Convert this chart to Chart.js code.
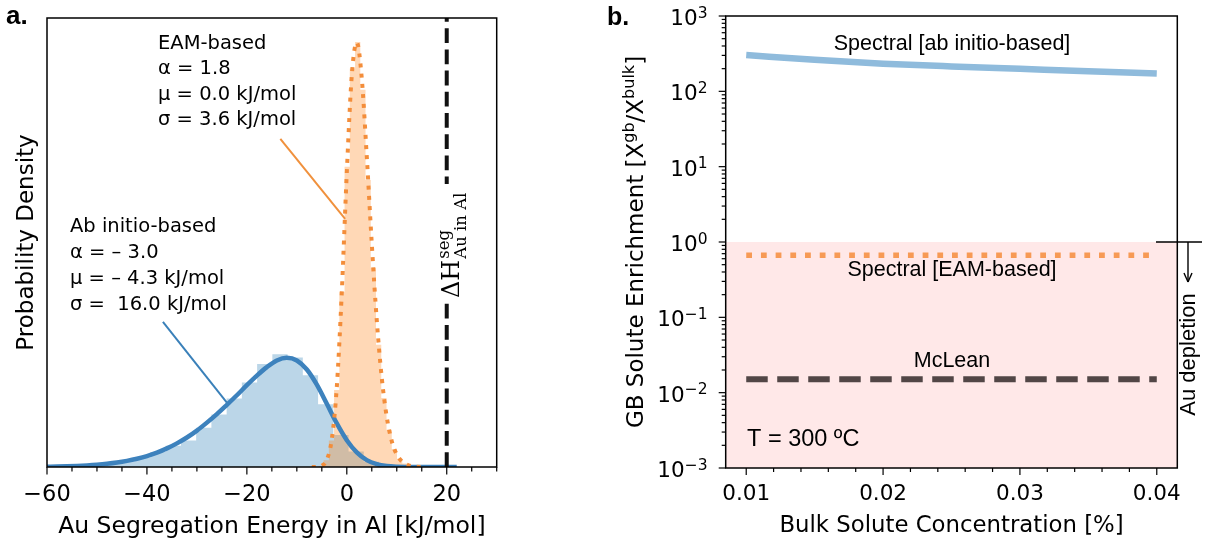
<!DOCTYPE html>
<html lang="en">
<head>
<meta charset="UTF-8" />
<title>Au segregation in Al</title>
<script src="https://cdn.jsdelivr.net/npm/chart.js"></script>
<style>
  html, body { margin: 0; padding: 0; background: #fff; }
  #wrap { position: relative; width: 1209px; height: 546px; }
  #chartA { position: absolute; left: 0; top: 0; }
  #chartB { position: absolute; left: 560px; top: 0; }
</style>
</head>
<body>
<div id="wrap">
  <canvas id="chartA" width="560" height="546"></canvas>
  <canvas id="chartB" width="649" height="546"></canvas>
</div>
<script>
// ---- panel a: segregation energy spectra ----
const abInitioEdges = [-60.65, -57.60, -54.55, -51.50, -48.45, -45.40, -42.35, -39.30, -36.25, -33.20,
  -30.15, -27.10, -24.05, -21.00, -17.95, -14.90, -11.85, -8.80, -5.75, -2.70,
  0.35, 3.40, 6.45, 9.50, 12.55, 15.60, 18.65, 21.70];
const abInitioHist = [0.0002, 0.0003, 0.0005, 0.0008, 0.0013, 0.0022, 0.0036, 0.0056, 0.0080, 0.0100,
  0.0148, 0.0198, 0.0258, 0.0318, 0.0388, 0.0424, 0.0412, 0.0345, 0.0236, 0.0120,
  0.0058, 0.0020, 0.0005, 0.00012, 0.00004, 0.00002, 0.00001];

const eamEdges = [-5.70, -4.65, -3.60, -2.55, -1.50, -0.45, 0.60, 1.65, 2.70, 3.75, 4.80,
  5.85, 6.90, 7.95, 9.00, 10.05, 11.10, 12.15, 13.20, 14.25, 15.30];
const eamHist = [0.0004, 0.0025, 0.0100, 0.0290, 0.0660, 0.1130, 0.1500, 0.1600, 0.1420, 0.1080,
  0.0750, 0.0460, 0.0260, 0.0140, 0.0068, 0.0031, 0.0013, 0.0005, 0.0002, 0.0001];

const abInitioFitX = [-60, -58, -56, -54, -52, -50, -48, -46, -44, -42, -40, -38, -36, -34, -32, -30,
  -28, -26, -24, -22, -20, -18, -16, -14, -12, -10, -8, -6, -4, -2, 0, 2, 4, 6, 8, 10, 12, 14, 16, 18, 20, 22];
const abInitioFitY = [0.00012, 0.00018, 0.00027, 0.0004, 0.00059, 0.00085, 0.0012, 0.00167, 0.0023, 0.0031,
  0.0041, 0.0054, 0.0070, 0.0089, 0.0111, 0.0137, 0.0167, 0.0199, 0.0234, 0.0270, 0.0308, 0.0344,
  0.0376, 0.0401, 0.0411, 0.0401, 0.0367, 0.0310, 0.0238, 0.0164, 0.0101, 0.0055, 0.0026, 0.0011,
  0.0004, 0.00012, 0.00003, 0, 0, 0, 0, 0];

const eamFitX = [-7, -6, -5, -4, -3, -2, -1, 0, 1, 2, 3, 4, 5, 6, 7, 8, 9, 10, 11, 12, 13, 14, 15, 16];
const eamFitY = [0, 0.00007, 0.0005, 0.0027, 0.0105, 0.0301, 0.0658, 0.1108, 0.1474, 0.1598, 0.1462,
  0.1168, 0.0840, 0.0552, 0.0335, 0.0188, 0.0097, 0.0047, 0.0021, 0.0009, 0.0003, 0.0001, 0.00003, 0.00001];

const deltaHSeg = 20;
const energyTicks = [-60, -40, -20, 0, 20];
const eamText = ['EAM-based', 'α = 1.8', 'μ = 0.0 kJ/mol', 'σ = 3.6 kJ/mol'];
const abText = ['Ab initio-based', 'α = – 3.0', 'μ = – 4.3 kJ/mol', 'σ =  16.0 kJ/mol'];

// ---- panel b: GB enrichment vs bulk concentration ----
const bulkConc = [0.010, 0.015, 0.020, 0.025, 0.030, 0.035, 0.040];
const spectralAbInitio = [303, 262, 233, 214, 199, 185, 173];
const spectralEAM = [0.665, 0.665, 0.665, 0.665, 0.665, 0.665, 0.665];
const mcLean = [0.0151, 0.0151, 0.0151, 0.0151, 0.0151, 0.0151, 0.0151];
const concTicks = [0.01, 0.02, 0.03, 0.04];
const enrichExponents = [-3, -2, -1, 0, 1, 2, 3];

function histPoints(edges, h) {
  const pts = h.map((v, i) => ({ x: edges[i], y: v }));
  pts.push({ x: edges[edges.length - 1], y: 0 });
  return pts;
}
function xy(xs, ys) { return xs.map((v, i) => ({ x: v, y: ys[i] })); }
function seg(ctx, x1, y1, x2, y2) { ctx.beginPath(); ctx.moveTo(x1, y1); ctx.lineTo(x2, y2); ctx.stroke(); }

const panelA = {
  id: 'panelA',
  afterDraw(chart) {
    const { ctx, chartArea: a, scales: { x, y } } = chart;
    ctx.save();
    ctx.strokeStyle = '#000';
    ctx.lineWidth = 1.2;
    for (let v = -60; v <= 30; v += 5) {
      const px = x.getPixelForValue(v);
      seg(ctx, px, a.bottom, px, a.bottom + (energyTicks.includes(v) ? 7.5 : 4.5));
    }
    ctx.lineWidth = 1.5;
    ctx.strokeRect(a.left, a.top, a.right - a.left, a.bottom - a.top);

    // annotation pointers
    ctx.lineWidth = 2;
    ctx.strokeStyle = '#3a80b9';
    seg(ctx, x.getPixelForValue(-36.8), y.getPixelForValue(0.0546), x.getPixelForValue(-24.0), y.getPixelForValue(0.0242));
    ctx.strokeStyle = '#f0913d';
    seg(ctx, x.getPixelForValue(-13.3), y.getPixelForValue(0.1235), x.getPixelForValue(-0.34), y.getPixelForValue(0.0934));

    ctx.fillStyle = '#000';
    ctx.textAlign = 'left';
    ctx.textBaseline = 'middle';
    ctx.font = '19.5px "DejaVu Sans"';
    eamText.forEach((t, i) => ctx.fillText(t, 158, 43.5 + i * 25.5));
    abText.forEach((t, i) => ctx.fillText(t, 70, 226.5 + i * 26));

    // delta H label on the dashed line
    const xl = x.getPixelForValue(deltaHSeg);
    ctx.fillStyle = '#fff';
    ctx.fillRect(xl - 12, 184, 34, 116);
    ctx.fillStyle = '#000';
    ctx.save();
    ctx.translate(xl + 12.5, 298);
    ctx.rotate(-Math.PI / 2);
    ctx.textBaseline = 'alphabetic';
    ctx.font = '24px "DejaVu Serif"';
    ctx.fillText('ΔH', 0, 0);
    const w = ctx.measureText('ΔH').width;
    ctx.font = '16.5px "DejaVu Serif"';
    ctx.fillText('seg', w + 1, -10.5);
    ctx.fillText('Au in Al', w + 1, 6.5);
    ctx.restore();

    ctx.save();
    ctx.translate(32.5, 242.5);
    ctx.rotate(-Math.PI / 2);
    ctx.textAlign = 'center';
    ctx.textBaseline = 'alphabetic';
    ctx.font = '23px "DejaVu Sans"';
    ctx.fillText('Probability Density', 0, 0);
    ctx.restore();

    ctx.font = 'bold 26px "Liberation Sans"';
    ctx.textBaseline = 'alphabetic';
    ctx.fillText('a.', 6, 24);
    ctx.restore();
  }
};

const panelB = {
  id: 'panelB',
  beforeDatasetsDraw(chart) {
    const { ctx, chartArea: a, scales: { y } } = chart;
    const top = y.getPixelForValue(1);
    ctx.save();
    ctx.fillStyle = 'rgba(250,0,0,0.09)';
    ctx.fillRect(a.left, top, a.right - a.left, a.bottom - top);
    ctx.restore();
  },
  afterDraw(chart) {
    const { ctx, chartArea: a, scales: { x, y } } = chart;
    ctx.save();
    ctx.strokeStyle = '#000';
    ctx.lineWidth = 1.2;
    for (let k = 5; k <= 20; k++) {
      const px = x.getPixelForValue(k * 0.002);
      seg(ctx, px, a.bottom, px, a.bottom + (k % 5 === 0 ? 7 : 4));
    }
    for (let e = -3; e < 3; e++) {
      for (let m = 1; m <= 9; m++) {
        const py = y.getPixelForValue(m * Math.pow(10, e));
        seg(ctx, a.left, py, a.left - (m === 1 ? 7 : 4), py);
      }
    }
    seg(ctx, a.left, a.top, a.left - 7, a.top);
    ctx.lineWidth = 1.5;
    ctx.strokeRect(a.left, a.top, a.right - a.left, a.bottom - a.top);

    // log tick labels with superscripts
    ctx.fillStyle = '#000';
    ctx.textAlign = 'left';
    ctx.textBaseline = 'alphabetic';
    enrichExponents.forEach(e => {
      const py = y.getPixelForValue(Math.pow(10, e));
      const ex = e < 0 ? '\u2212' + (-e) : String(e);
      ctx.font = '15.5px "DejaVu Sans"';
      const we = ctx.measureText(ex).width;
      ctx.font = '21.5px "DejaVu Sans"';
      const wb = ctx.measureText('10').width;
      const x0 = 147.5 - we - wb;
      ctx.fillText('10', x0, py + 9);
      ctx.font = '15.5px "DejaVu Sans"';
      ctx.fillText(ex, x0 + wb, py + 1.5);
    });

    // y title with superscripts
    const runs = [['GB Solute Enrichment [X', 0], ['gb', 1], ['/X', 0], ['bulk', 1], [']', 0]];
    const fontOf = s => s ? '16px "DejaVu Sans"' : '23px "DejaVu Sans"';
    let total = 0;
    runs.forEach(r => { ctx.font = fontOf(r[1]); total += ctx.measureText(r[0]).width; });
    ctx.save();
    ctx.translate(83, 242);
    ctx.rotate(-Math.PI / 2);
    let cx = -total / 2;
    runs.forEach(r => {
      ctx.font = fontOf(r[1]);
      ctx.fillText(r[0], cx, r[1] ? -9 : 0);
      cx += ctx.measureText(r[0]).width;
    });
    ctx.restore();

    // curve labels
    ctx.textAlign = 'center';
    ctx.textBaseline = 'middle';
    ctx.font = '21.5px "Liberation Sans"';
    ctx.fillText('Spectral [ab initio-based]', 392, 44);
    ctx.fillText('Spectral [EAM-based]', 392, 270.5);
    ctx.fillText('McLean', 392, 361.5);
    ctx.textAlign = 'left';
    ctx.font = '23.5px "Liberation Sans"';
    ctx.fillText('T = 300 ºC', 187, 439.5);

    // depletion marker
    const p1 = y.getPixelForValue(1);
    ctx.lineWidth = 1.4;
    seg(ctx, 596, p1, 642, p1);
    seg(ctx, 628, p1, 628, 282);
    seg(ctx, 624, 273, 628, 282);
    seg(ctx, 632, 273, 628, 282);
    ctx.save();
    ctx.translate(634.5, 354.5);
    ctx.rotate(-Math.PI / 2);
    ctx.textBaseline = 'alphabetic';
    ctx.textAlign = 'center';
    ctx.font = '22px "Liberation Sans"';
    ctx.fillText('Au depletion', 0, 0);
    ctx.restore();

    ctx.textAlign = 'left';
    ctx.textBaseline = 'alphabetic';
    ctx.font = 'bold 25px "Liberation Sans"';
    ctx.fillText('b.', 47, 25);
    ctx.restore();
  }
};

const noUi = { legend: { display: false }, tooltip: { enabled: false } };

new Chart(document.getElementById('chartA'), {
  type: 'line',
  data: {
    datasets: [
      { data: [{ x: deltaHSeg, y: 0 }, { x: deltaHSeg, y: 0.169 }], borderColor: '#111', borderWidth: 4,
        borderDash: [14.8, 6.4], pointRadius: 0, order: 1 },
      { data: xy(eamFitX, eamFitY), borderColor: '#f38d3a', borderWidth: 4, borderDash: [4, 6.2],
        cubicInterpolationMode: 'monotone', pointRadius: 0, order: 2 },
      { data: xy(abInitioFitX, abInitioFitY), borderColor: '#3d82bd', borderWidth: 4.5,
        cubicInterpolationMode: 'monotone', pointRadius: 0, order: 3 },
      { data: histPoints(eamEdges, eamHist), stepped: true, fill: 'origin', borderWidth: 0,
        borderColor: 'rgba(0,0,0,0)', backgroundColor: 'rgba(255,127,14,0.3)', pointRadius: 0, order: 4 },
      { data: histPoints(abInitioEdges, abInitioHist), stepped: true, fill: 'origin', borderWidth: 0,
        borderColor: 'rgba(0,0,0,0)', backgroundColor: 'rgba(31,119,180,0.3)', pointRadius: 0, order: 5 }
    ]
  },
  options: {
    responsive: false,
    animation: false,
    events: [],
    layout: { padding: { left: 47, top: 18, right: 63.3, bottom: 0 } },
    plugins: noUi,
    scales: {
      x: {
        type: 'linear', min: -60, max: 30,
        afterBuildTicks: s => { s.ticks = energyTicks.map(v => ({ value: v })); },
        afterFit: s => { s.height = 79; },
        grid: { display: false, drawTicks: false },
        border: { display: false },
        ticks: { color: '#000', padding: 14.5, maxRotation: 0, autoSkip: false,
          font: { family: 'DejaVu Sans', size: 22.5 },
          callback: v => (v < 0 ? '\u2212' : '') + Math.abs(v) },
        title: { display: true, text: 'Au Segregation Energy in Al [kJ/mol]', color: '#000',
          font: { family: 'DejaVu Sans', size: 23.5 }, padding: { top: 0, bottom: 5 } }
      },
      y: { type: 'linear', min: 0, max: 0.169, display: false }
    }
  },
  plugins: [panelA]
});

new Chart(document.getElementById('chartB'), {
  type: 'line',
  data: {
    datasets: [
      { data: xy(bulkConc, spectralAbInitio), borderColor: '#8fbbdc', borderWidth: 6.5,
        cubicInterpolationMode: 'monotone', pointRadius: 0 },
      { data: xy(bulkConc, spectralEAM), borderColor: '#f79a55', borderWidth: 5.5,
        borderDash: [5.8, 8.9], pointRadius: 0 },
      { data: xy(bulkConc, mcLean), borderColor: '#524646', borderWidth: 6,
        borderDash: [21.5, 9.5], pointRadius: 0 }
    ]
  },
  options: {
    responsive: false,
    animation: false,
    events: [],
    layout: { padding: { left: 165.7, top: 16, right: 31.7, bottom: 0 } },
    plugins: noUi,
    scales: {
      x: {
        type: 'linear', min: 0.0085, max: 0.0415,
        afterBuildTicks: s => { s.ticks = concTicks.map(v => ({ value: v })); },
        afterFit: s => { s.height = 78; },
        grid: { display: false, drawTicks: false },
        border: { display: false },
        ticks: { color: '#000', padding: 14, maxRotation: 0, autoSkip: false,
          font: { family: 'DejaVu Sans', size: 21.5 },
          callback: v => v.toFixed(2) },
        title: { display: true, text: 'Bulk Solute Concentration [%]', color: '#000',
          font: { family: 'DejaVu Sans', size: 22.8 }, padding: { top: 0, bottom: 6 } }
      },
      y: { type: 'logarithmic', min: 1e-3, max: 1e3, display: false }
    }
  },
  plugins: [panelB]
});
</script>
</body>
</html>
